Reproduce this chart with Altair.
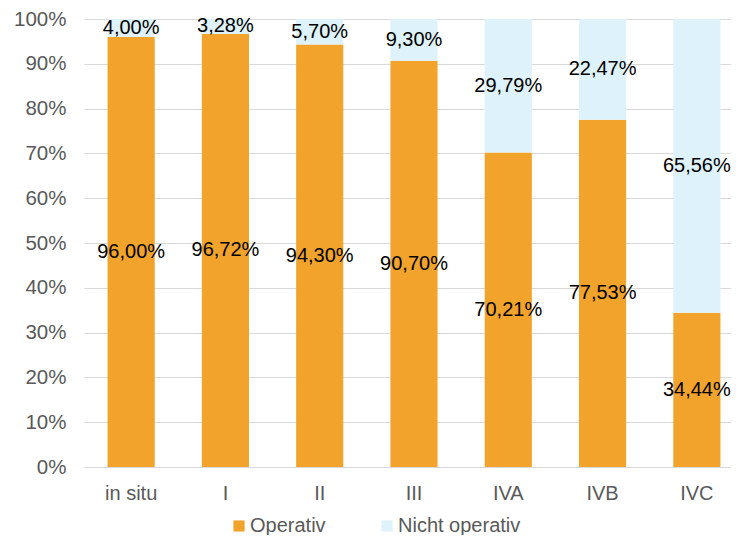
import altair as alt
import pandas as pd

categories = ["in situ", "I", "II", "III", "IVA", "IVB", "IVC"]
operativ = [96.00, 96.72, 94.30, 90.70, 70.21, 77.53, 34.44]
nicht_operativ = [4.00, 3.28, 5.70, 9.30, 29.79, 22.47, 65.56]
series = ["Operativ", "Nicht operativ"]
colors = ["#F2A32B", "#DDF2FA"]

rows = []
for i, c in enumerate(categories):
    for k, (s, v) in enumerate(zip(series, [operativ[i], nicht_operativ[i]])):
        rows.append({"cat": c, "series": s, "order": k, "value": v / 100.0,
                     "label": f"{v:.2f}".replace(".", ",") + "%"})
df = pd.DataFrame(rows)

FONT = "Liberation Sans"

base = alt.Chart(df).transform_stack(
    stack="value", groupby=["cat"], as_=["y0", "y1"],
    sort=[alt.SortField("order", order="ascending")]
).transform_calculate(mid="(datum.y0 + datum.y1) / 2")

xscale = alt.Scale(paddingInner=0.5, paddingOuter=0.25, range=[0, 660])

xenc = alt.X("cat:N", sort=categories, title=None, scale=xscale,
             axis=alt.Axis(labelAngle=0, tickSize=0, domain=True, domainColor="#D9D9D9",
                           labelFont=FONT, labelFontSize=20, labelColor="#595959",
                           labelPadding=16, grid=False))

bars = base.mark_bar().encode(
    x=xenc,
    y=alt.Y("y0:Q", title=None, scale=alt.Scale(domain=[0, 1]),
            axis=alt.Axis(values=[i / 10 for i in range(11)], format=".0%",
                          grid=True, gridColor="#D9D9D9", domain=False, tickSize=0,
                          labelFont=FONT, labelFontSize=20.5, labelColor="#595959",
                          labelPadding=18)),
    y2="y1:Q",
    color=alt.Color("series:N", sort=series,
                    scale=alt.Scale(domain=series, range=colors),
                    legend=alt.Legend(title=None, orient="none", direction="horizontal",
                                      legendX=145, legendY=497, padding=0,
                                      symbolType="square",
                                      symbolSize=125, symbolStrokeWidth=0,
                                      labelFont=FONT, labelFontSize=20, labelColor="#595959",
                                      labelOffset=1, columnPadding=51)),
)

texts = base.mark_text(font=FONT, fontSize=20, color="#000000", baseline="middle").encode(
    x=alt.X("cat:N", sort=categories),
    y=alt.Y("mid:Q"),
    text="label:N",
)

chart = (bars + texts).properties(
    width=647, height=448,
    autosize=alt.AutoSizeParams(type="none"),
    padding={"left": 76, "top": 11, "right": 0, "bottom": 68},
).configure_view(stroke=None)

chart.save("out.html", embed_options={"renderer": "svg", "actions": False})
